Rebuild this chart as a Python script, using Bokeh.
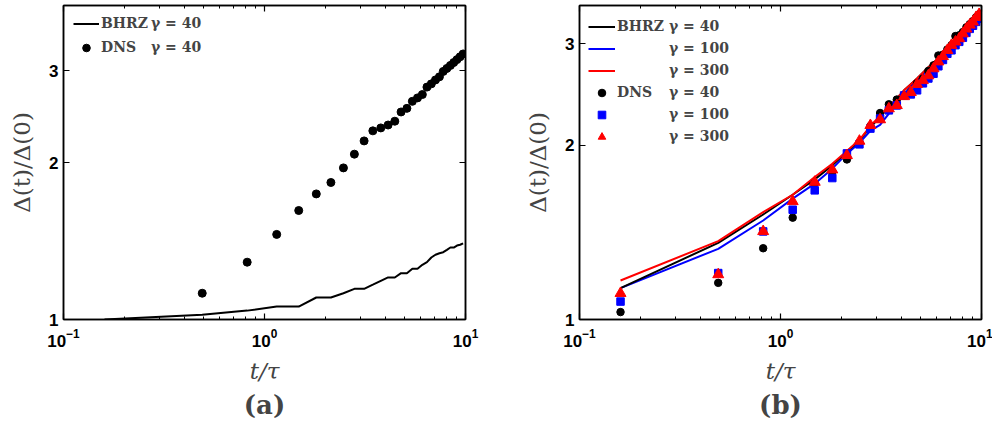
from bokeh.plotting import figure
from bokeh.layouts import row
from bokeh.models import (LogAxis, FixedTicker, PrintfTickFormatter, LogTickFormatter,
                          CustomJSTickFormatter, Legend, LegendItem, Title, Range1d)
from bokeh.embed import file_html
from bokeh.resources import INLINE

# ---------------- data ----------------
t_all = [0.16, 0.49, 0.82, 1.15, 1.48, 1.81, 2.14, 2.47, 2.80, 3.13,
         3.46, 3.79, 4.12, 4.45, 4.78, 5.11, 5.44, 5.77, 6.10, 6.43,
         6.76, 7.09, 7.42, 7.75, 8.08, 8.41, 8.74, 9.07, 9.40, 9.73]

# panel (a)
a_bhrz40 = [1.000, 1.021, 1.040, 1.059, 1.059, 1.102, 1.102, 1.123, 1.145, 1.145,
            1.166, 1.186, 1.204, 1.204, 1.227, 1.227, 1.251, 1.251, 1.273, 1.288,
            1.315, 1.331, 1.340, 1.346, 1.360, 1.374, 1.374, 1.386, 1.391, 1.400]
a_dns_t = t_all[1:]
a_dns40 = [1.123, 1.288, 1.456, 1.618, 1.741, 1.831, 1.953, 2.075, 2.20,
           2.30, 2.33, 2.36, 2.40, 2.50, 2.54, 2.62, 2.66, 2.70, 2.79,
           2.83, 2.88, 2.92, 2.99, 3.03, 3.07, 3.11, 3.15, 3.19, 3.23]

# panel (b)
b_bhrz40 = [1.133, 1.357, 1.519, 1.643, 1.747, 1.847, 1.950, 2.040, 2.150, 2.240,
            2.330, 2.410, 2.490, 2.550, 2.610, 2.670, 2.730, 2.780, 2.830, 2.880,
            2.920, 2.970, 3.020, 3.070, 3.130, 3.180, 3.230, 3.280, 3.330, 3.380]
b_bhrz100 = [1.133, 1.325, 1.483, 1.618, 1.717, 1.823, 1.935, 2.020, 2.120, 2.170,
             2.270, 2.370, 2.450, 2.530, 2.590, 2.650, 2.710, 2.760, 2.810, 2.860,
             2.900, 2.950, 3.000, 3.050, 3.110, 3.160, 3.210, 3.260, 3.310, 3.360]
b_bhrz300 = [1.168, 1.366, 1.533, 1.643, 1.763, 1.859, 1.955, 2.045, 2.160, 2.250,
             2.330, 2.410, 2.490, 2.550, 2.610, 2.670, 2.730, 2.780, 2.830, 2.880,
             2.920, 2.970, 3.020, 3.070, 3.130, 3.180, 3.230, 3.280, 3.330, 3.380]
b_dns40 = [1.030, 1.157, 1.328, 1.500, 1.720, 1.800, 1.891, 2.020, 2.160, 2.275,
           2.355, 2.400, 2.440, 2.470, 2.560, 2.610, 2.690, 2.750, 2.860, 2.870,
           2.930, 2.980, 3.090, 3.100, 3.140, 3.200, 3.240, 3.280, 3.330, 3.370]
b_dns100 = [1.074, 1.203, 1.420, 1.548, 1.672, 1.756, 1.937, 2.008, 2.138, 2.225,
            2.299, 2.345, 2.440, 2.450, 2.490, 2.560, 2.610, 2.660, 2.740, 2.810,
            2.880, 2.920, 2.980, 3.020, 3.070, 3.130, 3.180, 3.220, 3.270, 3.310]
b_dns300 = [1.110, 1.196, 1.420, 1.600, 1.728, 1.815, 1.922, 2.035, 2.166, 2.216,
            2.315, 2.345, 2.430, 2.470, 2.550, 2.590, 2.640, 2.715, 2.790, 2.850,
            2.920, 2.980, 3.020, 3.060, 3.120, 3.180, 3.230, 3.270, 3.330, 3.370]

x_major = [0.1, 1, 10]
x_minor = [0.2, 0.3, 0.4, 0.5, 0.6, 0.7, 0.8, 0.9, 2, 3, 4, 5, 6, 7, 8, 9]
y_ticks = [1, 2, 3]
x_label = "t/τ"
y_label = "Δ(t)/Δ(0)"

TICK_FONT = "Liberation Sans"
SERIF = "DejaVu Serif"


def style_axis(ax, show_labels=True, standoff=5):
    ax.major_tick_in = 6
    ax.major_tick_out = 0
    ax.minor_tick_in = 3
    ax.minor_tick_out = 0
    ax.axis_line_width = 1.5
    ax.axis_line_color = "black"
    ax.major_tick_line_width = 1.2
    ax.minor_tick_line_width = 1
    ax.major_tick_line_color = "black"
    ax.minor_tick_line_color = "black"
    if show_labels:
        ax.major_label_text_font = TICK_FONT
        ax.major_label_text_font_style = "bold"
        ax.major_label_text_font_size = "17px"
        ax.major_label_text_color = "black"
        ax.major_label_standoff = standoff
    else:
        ax.formatter = CustomJSTickFormatter(code="return ''")
        ax.major_label_text_font_size = "1px"
        ax.major_label_standoff = 0


def make_fig(ymax, border_left, border_right, caption):
    p = figure(frame_width=402, frame_height=314,
               x_axis_type="log", y_axis_type="log",
               x_range=Range1d(0.1, 10), y_range=Range1d(1, ymax),
               output_backend="svg", toolbar_location=None,
               min_border_left=border_left, min_border_right=border_right,
               min_border_top=5, min_border_bottom=105)
    p.grid.visible = False
    p.outline_line_color = "black"
    p.outline_line_width = 1.5
    p.background_fill_color = "white"
    p.border_fill_color = "white"

    xa = p.xaxis[0]
    xa.ticker = FixedTicker(ticks=x_major, minor_ticks=x_minor)
    xa.formatter = LogTickFormatter()
    style_axis(xa, standoff=9)
    xa.axis_label = x_label
    xa.axis_label_text_font = SERIF
    xa.axis_label_text_font_style = "italic"
    xa.axis_label_text_font_size = "23px"
    xa.axis_label_standoff = 8

    ya = p.yaxis[0]
    ya.ticker = FixedTicker(ticks=y_ticks, minor_ticks=[])
    ya.formatter = PrintfTickFormatter(format="%d")
    style_axis(ya, standoff=5)
    ya.axis_label = y_label
    ya.axis_label_text_font = SERIF
    ya.axis_label_text_font_style = "normal"
    ya.axis_label_text_font_size = "23px"
    ya.axis_label_standoff = 11

    top = LogAxis(ticker=FixedTicker(ticks=x_major, minor_ticks=x_minor))
    style_axis(top, show_labels=False)
    p.add_layout(top, "above")
    right = LogAxis(ticker=FixedTicker(ticks=y_ticks, minor_ticks=[]))
    style_axis(right, show_labels=False)
    p.add_layout(right, "right")

    p.add_layout(Title(text=caption, align="center", text_font=SERIF,
                       text_font_style="bold", text_font_size="26px",
                       standoff=3), "below")
    return p


def make_legends(p, rows_a, rows_b, vx_a, vx_b, vy, pitch, glyph_w):
    common = dict(padding=0, margin=0, spacing=0, orientation="vertical",
                  label_height=pitch, glyph_height=19,
                  border_line_color=None, background_fill_alpha=0,
                  label_text_font=SERIF, label_text_font_size="14px",
                  label_text_font_style="bold")
    leg_a = Legend(items=[LegendItem(label=lab, renderers=[r]) for lab, r in rows_a],
                   location=(vx_a, vy), glyph_width=glyph_w, label_standoff=2,
                   **common)
    leg_b = Legend(items=[LegendItem(label=lab, renderers=[r]) for lab, r in rows_b],
                   location=(vx_b, vy), glyph_width=0, label_standoff=0,
                   **common)
    p.add_layout(leg_a)
    p.add_layout(leg_b)


# ---------------- panel (a) ----------------
pa = make_fig(4.0, 63, 31, "(a)")
la40 = pa.line(t_all, a_bhrz40, line_color="black", line_width=2)
ca40 = pa.scatter(a_dns_t, a_dns40, marker="circle", size=8,
                  fill_color="black", line_color="black")
make_legends(pa,
             [("BHRZ", la40), ("DNS", ca40)],
             [("γ = 40", la40), ("γ = 40", ca40)],
             10, 88, 260, 24, 26)

# ---------------- panel (b) ----------------
pb = make_fig(3.49, 83, 11, "(b)")
lb100 = pb.line(t_all, b_bhrz100, line_color="#0000ff", line_width=2)
lb40 = pb.line(t_all, b_bhrz40, line_color="black", line_width=2)
lb300 = pb.line(t_all, b_bhrz300, line_color="#ff0000", line_width=2)
cb40 = pb.scatter(t_all, b_dns40, marker="circle", size=7.5,
                  fill_color="black", line_color="black")
cb100 = pb.scatter(t_all, b_dns100, marker="square", size=7.5,
                   fill_color="#0000ff", line_color="#0000ff")
cb300 = pb.scatter(t_all, b_dns300, marker="triangle", size=11,
                   fill_color="#ff0000", line_color="#ff0000")
make_legends(pb,
             [("BHRZ", lb40), ("", lb100), ("", lb300),
              ("DNS", cb40), ("", cb100), ("", cb300)],
             [("γ = 40", lb40), ("γ = 100", lb100), ("γ = 300", lb300),
              ("γ = 40", cb40), ("γ = 100", cb100), ("γ = 300", cb300)],
             9, 90, 172, 22, 27)

layout = row(pa, pb)
open("out.html", "w").write(file_html(layout, INLINE))
